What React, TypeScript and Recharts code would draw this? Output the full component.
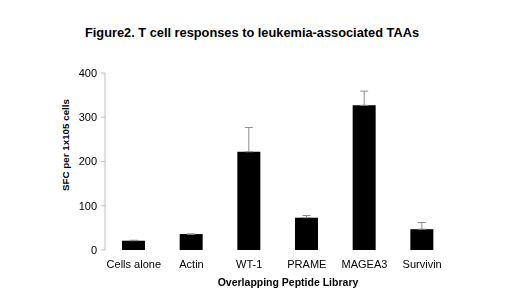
import { BarChart, Bar, XAxis, YAxis, ErrorBar } from 'recharts';

const peptides = ['Cells alone', 'Actin', 'WT-1', 'PRAME', 'MAGEA3', 'Survivin'];
const sfc = [21, 36, 222, 73, 327, 47];
const sfcError = [1, 0, 55, 5, 32, 15];
const yTicks = [0, 100, 200, 300, 400];

const data = peptides.map((name, i) => ({
  name,
  sfc: sfc[i],
  err: [0, sfcError[i]],
}));

const FONT = '"Liberation Sans", Arial, sans-serif';
const AXIS_GREY = '#bfbfbf';

export default function App() {
  return (
    <div
      style={{
        position: 'fixed',
        left: 0,
        top: 0,
        width: 520,
        height: 292,
        background: '#fff',
        fontFamily: FONT,
      }}
    >
      <div
        style={{
          position: 'absolute',
          left: 0,
          top: 25,
          width: 504,
          textAlign: 'center',
          fontSize: 12.8,
          fontWeight: 'bold',
          color: '#000',
        }}
      >
        Figure2. T cell responses to leukemia-associated TAAs
      </div>
      <div
        style={{
          position: 'absolute',
          left: 65,
          top: 145,
          transform: 'translate(-50%, -50%) rotate(-90deg)',
          whiteSpace: 'nowrap',
          fontSize: 9.8,
          fontWeight: 'bold',
          color: '#000',
        }}
      >
        SFC per 1x105 cells
      </div>
      <div
        style={{
          position: 'absolute',
          left: 0,
          top: 276,
          width: 576,
          textAlign: 'center',
          fontSize: 10.5,
          fontWeight: 'bold',
          color: '#000',
        }}
      >
        Overlapping Peptide Library
      </div>
      <div style={{ position: 'absolute', left: 0, top: 0 }}>
        <BarChart
          width={520}
          height={292}
          data={data}
          margin={{ top: 73, right: 69, left: 60, bottom: 22 }}
        >
          <XAxis
            dataKey="name"
            xAxisId="cat"
            tickLine={false}
            axisLine={false}
            interval={0}
            height={20}
            tickMargin={4}
            tick={{ fontSize: 11, fill: '#000', fontFamily: FONT }}
          />
          <XAxis
            xAxisId="sep"
            type="number"
            domain={[0, peptides.length]}
            ticks={[0, 1, 2, 3, 4, 5, 6]}
            tick={false}
            tickSize={4}
            tickLine={{ stroke: AXIS_GREY }}
            axisLine={{ stroke: AXIS_GREY }}
            height={0}
          />
          <YAxis
            domain={[0, 400]}
            ticks={yTicks}
            width={45}
            tickSize={4}
            tickMargin={4}
            tickLine={{ stroke: AXIS_GREY }}
            axisLine={{ stroke: AXIS_GREY }}
            tick={{ fontSize: 11, fill: '#000', fontFamily: FONT }}
          />
          <Bar dataKey="sfc" xAxisId="cat" fill="#000" barSize={23} isAnimationActive={false}>
            <ErrorBar
              dataKey="err"
              direction="y"
              width={4}
              stroke="#8c8c8c"
              strokeWidth={1}
              isAnimationActive={false}
            />
          </Bar>
        </BarChart>
      </div>
    </div>
  );
}
